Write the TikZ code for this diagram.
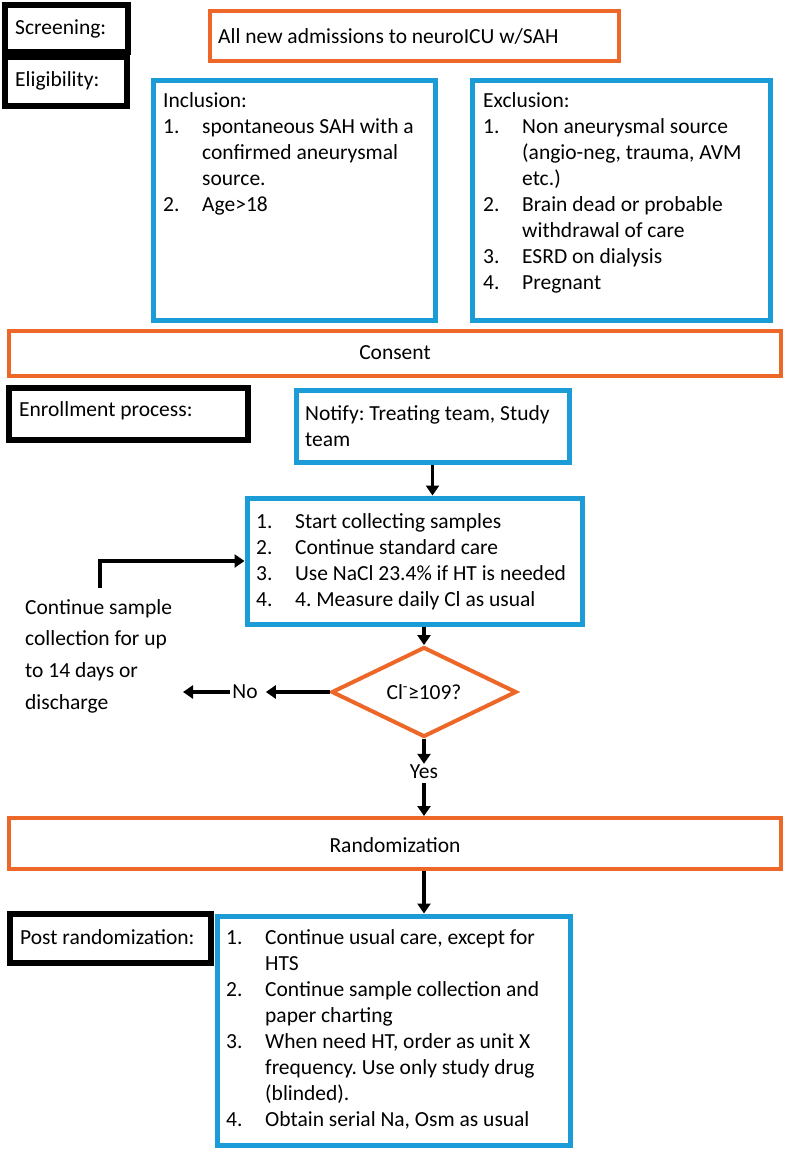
\documentclass[tikz,border=0pt]{standalone}
\usepackage{fontspec}
\setmainfont{Carlito}
\usetikzlibrary{arrows.meta,fit,shapes.geometric}
\definecolor{orng}{RGB}{237,103,40}
\definecolor{blu}{RGB}{28,156,214}
\newcommand{\nm}[1]{\makebox[39pt][l]{#1}}
\frenchspacing
\begin{document}
\begin{tikzpicture}[x=1pt,y=-1pt,
 bk/.style={draw=black,line width=5.5pt,inner sep=0pt},
 bl/.style={draw=blu,line width=5pt,inner sep=0pt},
 og/.style={draw=orng,line width=4pt,inner sep=0pt},
 txt/.style={inner sep=0pt,font=\fontsize{21.5}{26}\selectfont},
 arr/.style={line width=3.5pt,-{Triangle[length=10pt,width=13pt]}},
]
\useasboundingbox[fill=white] (0,0) rectangle (787,1151);
% boxes
\node[bk, fit={(5,5) (128,52)}] (scr) {};
\node[bk, fit={(5,57) (127,106)}] (elig) {};
\node[og, fit={(210,11) (619,61)}] (adm) {};
\node[bl, fit={(153,80) (435,320)}] (incl) {};
\node[bl, fit={(472,80) (770,320)}] (excl) {};
\node[og, fit={(9,331) (781,376)}] (cons) {};
\node[bk, fit={(9,388) (248,440)}] (enr) {};
\node[bl, fit={(296,390) (569,462)}] (notify) {};
\node[bl, fit={(247,498) (582,624)}] (steps) {};
\node[og, fit={(9,818) (781,869)}] (rand) {};
\node[bk, fit={(10,914) (211,963)}] (post) {};
\node[bl, fit={(217,916) (570,1145)}] (final) {};
\node[diamond, draw=orng, line width=4pt, minimum width=185pt, minimum height=71pt, inner sep=0pt, font=\fontsize{21.5}{26}\selectfont] (dec) at (424,692) {Cl\textsuperscript{-}≥109?};
% texts
\node[txt, anchor=base west] (scrt) at (15,34) {Screening:};
\node[txt, anchor=base west] (eligt) at (15,86) {Eligibility:};
\node[txt, anchor=base west] (admt) at (218,43) {All new admissions to neuroICU w/SAH};
\node[txt, anchor=base west] (inclt) at (163,107) {\begin{tabular}[t]{@{}l@{}}
Inclusion:\\
\nm{1.}spontaneous SAH with a\\
\nm{}confirmed aneurysmal\\
\nm{}source.\\
\nm{2.}Age>18
\end{tabular}};
\node[txt, anchor=base west] (exclt) at (483,107) {\begin{tabular}[t]{@{}l@{}}
Exclusion:\\
\nm{1.}Non aneurysmal source\\
\nm{}(angio-neg, trauma, AVM\\
\nm{}etc.)\\
\nm{2.}Brain dead or probable\\
\nm{}withdrawal of care\\
\nm{3.}ESRD on dialysis\\
\nm{4.}Pregnant
\end{tabular}};
\node[txt] (const) at (395,353) {Consent};
\node[txt, anchor=base west] (enrt) at (19,416) {Enrollment process:};
\node[txt, anchor=base west] (notifyt) at (305,420) {\begin{tabular}[t]{@{}l@{}}
Notify: Treating team, Study\\
team
\end{tabular}};
\node[txt, anchor=base west] (stepst) at (256,528) {\begin{tabular}[t]{@{}l@{}}
\nm{1.}Start collecting samples\\
\nm{2.}Continue standard care\\
\nm{3.}Use NaCl 23.4\% if HT is needed\\
\nm{4.}4. Measure daily Cl as usual
\end{tabular}};
\node[inner sep=0pt, anchor=base west, font=\fontsize{21.5}{31.7}\selectfont] (cont) at (25,614) {\begin{tabular}[t]{@{}l@{}}
Continue sample\\
collection for up\\
to 14 days or\\
discharge
\end{tabular}};
\node[txt] (no) at (245,692) {No};
\node[txt] (yes) at (424,772) {Yes};
\node[txt] (randt) at (395,845) {Randomization};
\node[txt, anchor=base west] (postt) at (20,944) {Post randomization:};
\node[txt, anchor=base west] (finalt) at (226,944) {\begin{tabular}[t]{@{}l@{}}
\nm{1.}Continue usual care, except for\\
\nm{}HTS\\
\nm{2.}Continue sample collection and\\
\nm{}paper charting\\
\nm{3.}When need HT, order as unit X\\
\nm{}frequency. Use only study drug\\
\nm{}(blinded).\\
\nm{4.}Obtain serial Na, Osm as usual
\end{tabular}};
% connectors
\coordinate (loop) at (100,588);
\coordinate (noend) at (183,692);
\draw[arr] (notify.south) -- (notify.south |- steps.north);
\draw[arr] (loop) |- (steps.west);
\draw[arr] (steps.south -| dec.north) -- (dec.north);
\draw[arr] (dec.west) -- ([xshift=8pt]no.east);
\draw[arr] ([xshift=-2pt]no.west) -- (noend);
\draw[arr] (dec.south) -- ([yshift=1pt]yes.north);
\draw[arr] ([yshift=-4pt]yes.south) -- (yes.south |- rand.north);
\draw[arr] (rand.south -| dec.south) -- (final.north -| dec.south);
\end{tikzpicture}
\end{document}
